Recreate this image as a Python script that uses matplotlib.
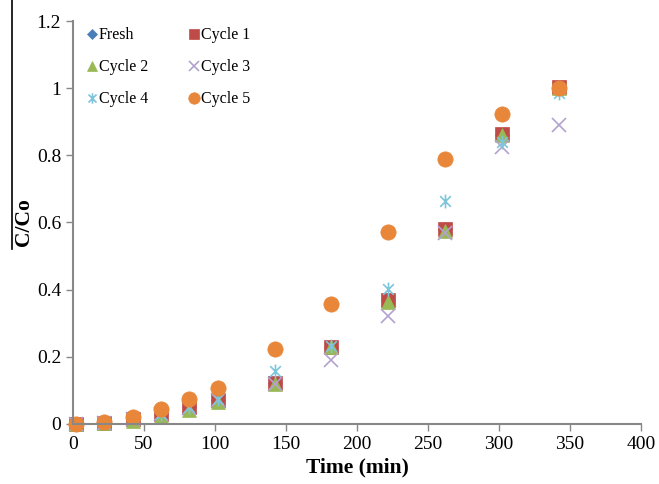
import matplotlib
matplotlib.use("Agg")
import matplotlib.pyplot as plt
from matplotlib.lines import Line2D
from matplotlib.path import Path

plt.rcParams['font.family'] = ['Liberation Serif', 'DejaVu Serif']

# time points (min)
time = [2, 22, 42, 62, 82, 102, 142, 182, 222, 262, 302, 342]

# C/Co for each run
fresh = [0.0, 0.003, 0.015, 0.03, 0.05, 0.07, 0.123, 0.23, 0.37, 0.58, 0.86, 1.0]
cycle1 = [0.0, 0.003, 0.015, 0.03, 0.05, 0.07, 0.123, 0.23, 0.368, 0.582, 0.864, 1.003]
cycle2 = [0.0, 0.002, 0.01, 0.025, 0.042, 0.065, 0.12, 0.228, 0.362, 0.575, 0.86, 1.0]
cycle3 = [0.0, 0.003, 0.015, 0.03, 0.048, 0.07, 0.12, 0.192, 0.322, 0.57, 0.824, 0.89]
cycle4 = [0.0, 0.003, 0.015, 0.03, 0.05, 0.075, 0.158, 0.232, 0.403, 0.663, 0.84, 0.985]
cycle5 = [0.0, 0.006, 0.022, 0.045, 0.075, 0.108, 0.222, 0.358, 0.572, 0.788, 0.922, 1.0]

# excel-like star: x plus a vertical bar
star = Path([(-1, -1), (1, 1), (-1, 1), (1, -1), (0, -1.3), (0, 1.3)],
            [Path.MOVETO, Path.LINETO, Path.MOVETO, Path.LINETO, Path.MOVETO, Path.LINETO])

fig = plt.figure(figsize=(6.59, 4.84), dpi=100)
ax = fig.add_axes([0.1108, 0.124, 0.862, 0.8326])

series = [
    ('Fresh', fresh, 'D', '#4A7EBB', 7, 0.5),
    ('Cycle 1', cycle1, 's', '#BE4B48', 9.5, 0.5),
    ('Cycle 2', cycle2, '^', '#98B954', 10, 0.5),
    ('Cycle 3', cycle3, 'x', '#B3A2D0', 10, 1.2),
    ('Cycle 4', cycle4, star, '#7DC5DB', 10, 1.2),
    ('Cycle 5', cycle5, 'o', '#E8873A', 11, 0.5),
]

handles = {}
for name, vals, mk, col, ms, mew in series:
    ln, = ax.plot(time, vals, linestyle='none', marker=mk, color=col,
                  markersize=ms, markeredgewidth=mew, clip_on=False, label=name)
    handles[name] = ln

order = ['Fresh', 'Cycle 2', 'Cycle 4', 'Cycle 1', 'Cycle 3', 'Cycle 5']
leg_handles = []
for name in order:
    h = handles[name]
    leg_handles.append(Line2D([], [], linestyle='none', marker=h.get_marker(),
                              color=h.get_color(), markersize=h.get_markersize() * 0.75,
                              markeredgewidth=h.get_markeredgewidth()))
ax.legend(leg_handles, order, ncol=2, frameon=False, loc='upper left',
          bbox_to_anchor=(0.0, 1.02), fontsize=11.5, handlelength=0.6,
          handletextpad=0.1, columnspacing=2.6, labelspacing=1.0)

ax.set_xlim(0, 400)
ax.set_ylim(0, 1.2)
ax.set_xticks([0, 50, 100, 150, 200, 250, 300, 350, 400])
ax.set_yticks([0, 0.2, 0.4, 0.6, 0.8, 1.0, 1.2])
ax.set_yticklabels(['0', '0.2', '0.4', '0.6', '0.8', '1', '1.2'])
ax.tick_params(labelsize=14, colors='#888888', labelcolor='black',
               direction='out', length=5, width=1)
ax.tick_params(axis='x', pad=4)

for s in ['top', 'right']:
    ax.spines[s].set_visible(False)
for s in ['left', 'bottom']:
    ax.spines[s].set_color('#888888')
    ax.spines[s].set_linewidth(1.5)

ax.set_xlabel('Time (min)', fontsize=15.5, fontweight='bold', labelpad=3)
ax.set_ylabel('C/Co', fontsize=15.5, fontweight='bold', labelpad=2)

# stray border line at the left edge of the original image
fig.add_artist(Line2D([12 / 659, 12 / 659], [1.0, 1 - 249 / 484],
                      color='black', linewidth=1.2, transform=fig.transFigure))

fig.savefig('out.png', dpi=100)
